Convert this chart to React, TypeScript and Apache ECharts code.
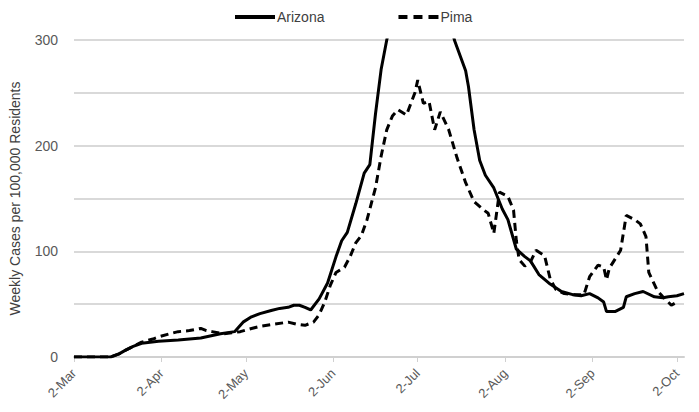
import React, { useEffect, useRef } from "react";
import * as echarts from "echarts";

// Day offsets from 2-Mar (x) and weekly cases per 100,000 residents (y)
const arizonaDays = [0, 13, 16, 18, 21, 24, 30, 37, 45, 52, 57, 60, 63, 66, 70, 73, 76, 78, 80, 82, 84, 87, 90, 93, 95, 97, 100, 103, 105, 107, 109, 111, 114, 118, 123, 128, 132, 135, 139, 140, 142, 144, 146, 149, 152, 154, 157, 160, 162, 165, 169, 173, 177, 180, 183, 186, 188, 189, 192, 195, 196, 199, 202, 206, 209, 211, 214, 216.5];
const arizonaValues = [0, 0, 3, 6, 10, 13, 15, 16, 18, 22, 24, 33, 38, 41, 44, 46, 47, 49, 49, 47, 44.5, 55, 70, 95, 110, 118, 145, 174, 182, 230, 272, 300, 335, 360, 372, 365, 335, 300, 271, 256, 215, 186, 172, 160, 140, 130, 102, 95, 91, 78, 69, 62, 59, 58, 60, 56, 52, 43, 43, 47, 57, 60, 62, 57, 56, 57, 58, 60];

const pimaDays = [0, 13, 16, 18, 21, 24, 28, 30, 34, 37, 41, 45, 47, 49, 53, 56, 59, 63, 66, 71, 76, 79, 82, 85, 87, 89, 91, 93, 96, 98, 100, 102, 104, 107, 109, 111, 113, 115, 118, 121, 122, 124, 126, 128, 130, 133, 136, 139, 142, 145, 147, 149, 151, 154, 156, 157, 158, 160, 162, 164, 167, 169, 171, 174, 178, 181, 183, 186, 188, 189, 190, 194, 196, 199, 201, 203, 204, 207, 209, 212, 214];
const pimaValues = [0, 0, 3, 6, 10, 14, 17, 19, 22, 24, 25, 27, 25, 24, 22, 23, 24, 27, 29, 31, 33, 31, 30, 33, 40, 52, 68, 80, 85, 95, 108, 115, 130, 160, 190, 215, 228, 234, 229, 250, 262, 240, 242, 215, 232, 215, 188, 165, 147, 140, 136, 117, 156, 152, 139, 110, 92, 86, 90, 101, 96, 74, 64, 60, 59, 59, 76, 87, 85, 73, 84, 101, 134, 130, 126, 114, 80, 63, 57, 49, 52];

const tickDays = [0, 31, 61, 92, 122, 153, 184, 214];
const tickLabels = ["2-Mar", "2-Apr", "2-May", "2-Jun", "2-Jul", "2-Aug", "2-Sep", "2-Oct"];

const FONT = "Liberation Sans";
const SOLID_ICON = "path://M0,0H40V4H0Z";
const DASH_ICON = "path://M0,0H9V4H0Z M15,0H24V4H15Z M30,0H40V4H30Z";

export default function App() {
  const ref = useRef<HTMLDivElement>(null);
  useEffect(() => {
    if (!ref.current) return;
    const chart = echarts.init(ref.current, null, { renderer: "svg" });
    chart.setOption({
      animation: false,
      backgroundColor: "#ffffff",
      textStyle: { fontFamily: FONT },
      legend: {
        top: 10,
        left: 235,
        padding: 0,
        itemWidth: 40,
        itemHeight: 4,
        itemGap: 74,
        textStyle: { fontFamily: FONT, fontSize: 14, color: "#404040", padding: [0, 0, 0, -3] },
        data: [
          { name: "Arizona", icon: SOLID_ICON },
          { name: "Pima", icon: DASH_ICON },
        ],
      },
      grid: { left: 73, right: 15, top: 40, bottom: 55 },
      xAxis: {
        type: "value",
        min: 0,
        max: 216.5,
        splitLine: { show: false },
        axisLine: { show: true, lineStyle: { color: "#d0d0d0", width: 2 } },
        axisTick: {
          show: true,
          customValues: tickDays,
          length: 5,
          lineStyle: { color: "#d0d0d0", width: 1 },
        },
        axisLabel: {
          customValues: tickDays,
          rotate: 45,
          margin: 14,
          fontFamily: FONT,
          fontSize: 13,
          color: "#595959",
          formatter: (v: number) => {
            const i = tickDays.indexOf(Math.round(v));
            return i >= 0 ? tickLabels[i] : "";
          },
        },
      },
      yAxis: {
        type: "value",
        min: 0,
        max: 300,
        interval: 50,
        name: "Weekly Cases per 100,000 Residents",
        nameLocation: "middle",
        nameGap: 52,
        nameTextStyle: { fontFamily: FONT, fontSize: 14, color: "#404040" },
        axisLine: { show: false },
        axisTick: { show: false },
        splitLine: { show: true, lineStyle: { color: "#d9d9d9", width: 2 } },
        axisLabel: {
          margin: 16,
          fontFamily: FONT,
          fontSize: 14,
          color: "#595959",
          formatter: (v: number) => (v % 100 === 0 ? String(v) : ""),
        },
      },
      series: [
        {
          name: "Arizona",
          type: "line",
          symbol: "none",
          clip: true,
          lineStyle: { color: "#000000", width: 3 },
          itemStyle: { color: "#000000" },
          data: arizonaDays.map((d, i) => [d, arizonaValues[i]]),
        },
        {
          name: "Pima",
          type: "line",
          symbol: "none",
          clip: true,
          lineStyle: { color: "#000000", width: 3, type: [8, 5] },
          itemStyle: { color: "#000000" },
          data: pimaDays.map((d, i) => [d, pimaValues[i]]),
        },
      ],
    });
    return () => chart.dispose();
  }, []);
  return <div ref={ref} style={{ width: 699, height: 412, position: "absolute", left: 0, top: 0 }} />;
}
